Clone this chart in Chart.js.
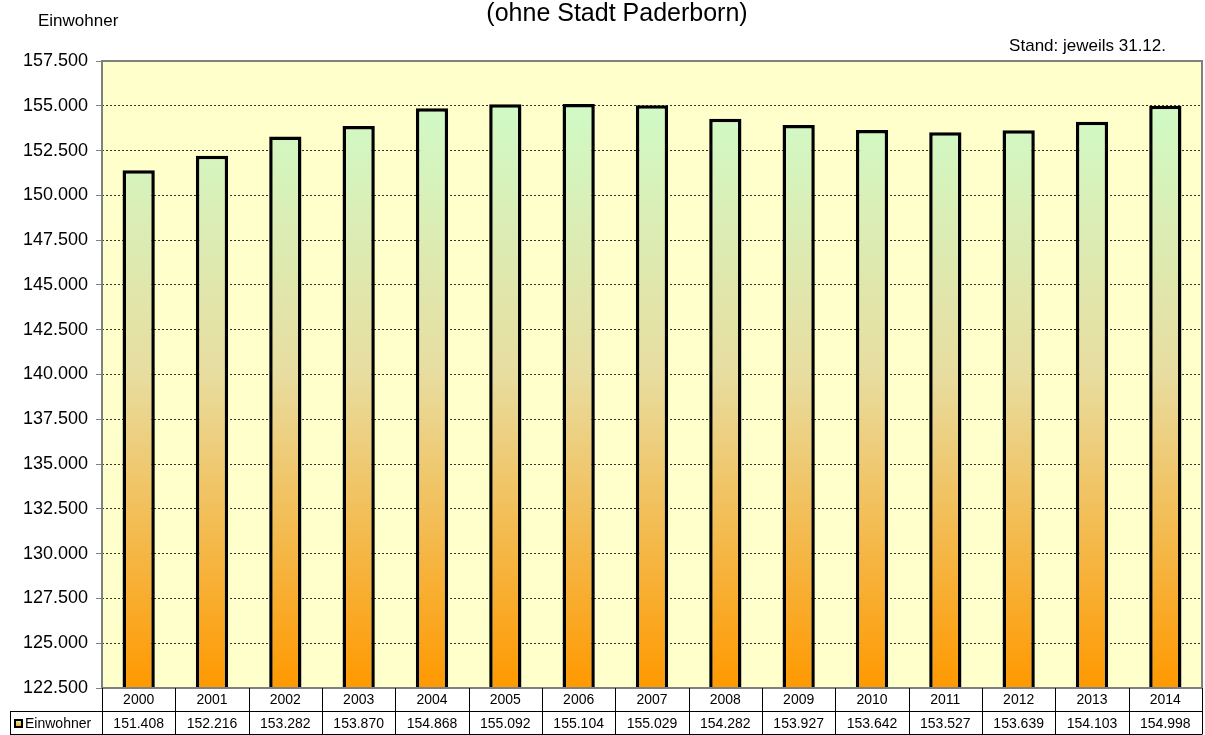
<!DOCTYPE html>
<html>
<head>
<meta charset="utf-8">
<script src="https://cdn.jsdelivr.net/npm/chart.js@4"></script>
<style>
  html, body { margin: 0; padding: 0; background: #fff; }
  #wrap { width: 1205px; height: 735px; position: relative; }
</style>
</head>
<body>
<div id="wrap"><canvas id="numberChart" width="1205" height="735"></canvas></div>
<script>
const years = ['2000', '2001', '2002', '2003', '2004', '2005', '2006', '2007', '2008', '2009', '2010', '2011', '2012', '2013', '2014'];
const einwohner = [151408, 152216, 153282, 153870, 154868, 155092, 155104, 155029, 154282, 153927, 153642, 153527, 153639, 154103, 154998];
const yMin = 122500;
const yMax = 157500;
const yStep = 2500;

// 151408 -> "151.408"
function fmt(v) {
  const k = Math.floor(v / 1000);
  const r = String(Math.round(v % 1000)).padStart(3, '0');
  return k + '.' + r;
}

const font = "'Liberation Sans', Arial, sans-serif";

// plot background + title texts + data table below the plot
const decorPlugin = {
  id: 'decor',
  beforeDraw(chart) {
    const { ctx, chartArea } = chart;
    ctx.save();
    ctx.fillStyle = '#FFFFCC';
    ctx.fillRect(chartArea.left, chartArea.top, chartArea.right - chartArea.left, chartArea.bottom - chartArea.top);
    ctx.restore();
  },
  afterDraw(chart) {
    const { ctx, chartArea, scales } = chart;
    const x = scales.x;
    ctx.save();
    ctx.fillStyle = '#000';
    ctx.textBaseline = 'middle';

    ctx.font = '25px ' + font;
    ctx.textAlign = 'center';
    ctx.fillText('(ohne Stadt Paderborn)', 617, 14);

    ctx.font = '17px ' + font;
    ctx.textAlign = 'left';
    ctx.fillText('Einwohner', 38, 21);
    ctx.textAlign = 'right';
    ctx.fillText('Stand: jeweils 31.12.', 1166, 46);

    // plot border
    ctx.strokeStyle = '#808080';
    ctx.lineWidth = 2;
    ctx.strokeRect(chartArea.left, chartArea.top, chartArea.right - chartArea.left, chartArea.bottom - chartArea.top);

    // data table
    const top = chartArea.bottom;
    const mid = top + 23;
    const bot = 734.5;
    const left = chartArea.left;
    const right = chartArea.right;
    const cw = (right - left) / years.length;
    ctx.strokeStyle = '#000';
    ctx.lineWidth = 1;
    ctx.beginPath();
    ctx.moveTo(10, mid + 0.5); ctx.lineTo(right, mid + 0.5);
    ctx.moveTo(10, bot); ctx.lineTo(right, bot);
    ctx.moveTo(10.5, mid); ctx.lineTo(10.5, bot);
    for (let i = 0; i <= years.length; i++) {
      const lx = Math.round(left + i * cw) + 0.5;
      ctx.moveTo(lx, top); ctx.lineTo(lx, bot);
    }
    ctx.stroke();

    ctx.font = '14px ' + font;
    ctx.textAlign = 'center';
    years.forEach((y, i) => {
      const cx = x.getPixelForValue(i);
      ctx.fillText(y, cx, (top + mid) / 2 + 1);
      ctx.fillText(fmt(einwohner[i]), cx, (mid + bot) / 2 + 1);
    });

    // legend key
    const ky = Math.round((mid + bot) / 2) - 3;
    const g = ctx.createLinearGradient(0, ky, 0, ky + 7);
    g.addColorStop(0, '#CCFFCC');
    g.addColorStop(1, '#FF9900');
    ctx.fillStyle = g;
    ctx.fillRect(15, ky, 7, 7);
    ctx.strokeStyle = '#000';
    ctx.lineWidth = 2;
    ctx.strokeRect(15, ky, 7, 7);
    ctx.fillStyle = '#000';
    ctx.textAlign = 'left';
    ctx.fillText('Einwohner', 25, (mid + bot) / 2 + 1);
    ctx.restore();
  }
};

function barGradient(context) {
  const chart = context.chart;
  const area = chart.chartArea;
  if (!area) return '#FF9900';
  const g = chart.ctx.createLinearGradient(0, area.top, 0, area.bottom);
  g.addColorStop(0, '#CCFFCC');
  g.addColorStop(0.5, '#E8DDA0');
  g.addColorStop(1, '#FF9900');
  return g;
}

const ctx = document.getElementById('numberChart').getContext('2d');
const numberChart = new Chart(ctx, {
  type: 'bar',
  data: {
    labels: years,
    datasets: [{
      label: 'Einwohner',
      data: einwohner,
      backgroundColor: barGradient,
      borderColor: '#000',
      borderWidth: 3.5,
      borderSkipped: 'bottom',
      categoryPercentage: 1,
      barPercentage: 0.44
    }]
  },
  plugins: [decorPlugin],
  options: {
    responsive: false,
    animation: false,
    layout: { padding: { top: 61, bottom: 47, left: 0, right: 3 } },
    plugins: {
      legend: { display: false },
      tooltip: { enabled: false }
    },
    scales: {
      x: {
        display: false
      },
      y: {
        min: yMin,
        max: yMax,
        afterFit(scale) { scale.width = 102; },
        ticks: {
          stepSize: yStep,
          color: '#000',
          font: { size: 18, family: font },
          padding: 8,
          callback: v => fmt(v)
        },
        grid: {
          color: '#333',
          lineWidth: 1,
          tickLength: 6,
          tickColor: '#808080',
          tickBorderDash: [],
          drawOnChartArea: true
        },
        border: { display: false, dash: [2, 2] }
      }
    }
  }
});
</script>
</body>
</html>
